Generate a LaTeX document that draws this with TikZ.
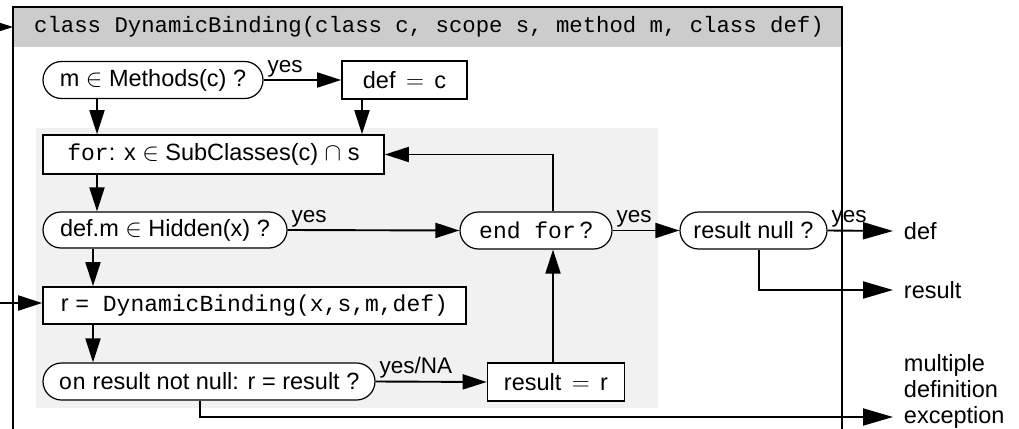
\documentclass[tikz,border=0pt]{standalone}
\usepackage{fontspec}
\setmainfont{Liberation Sans}
\newfontfamily\codefont{Liberation Mono}
\usetikzlibrary{arrows.meta,shapes.misc}
\newcommand{\cd}[1]{{\codefont\fontsize{23}{26}\selectfont #1}}
\definecolor{headgray}{HTML}{CCCCCC}
\definecolor{loopgray}{HTML}{F1F1F1}

\begin{document}
\begin{tikzpicture}[x=1pt,y=-1pt,
  line width=1.9pt,
  every node/.style={font=\fontsize{23.5}{26}\selectfont},
  box/.style={draw, rectangle, inner sep=0pt, fill=white, line width=1.7pt},
  term/.style={draw, rounded rectangle, inner sep=0pt, fill=white, line width=1.2pt},
  arr/.style={-{Triangle[length=24pt,width=15pt]}},
  outarr/.style={-{Triangle[length=30pt,width=17pt]}},
  lbl/.style={anchor=base west, inner sep=0pt, yshift=8pt, xshift=3pt, font=\fontsize{22.5}{26}\selectfont},
  outtxt/.style={anchor=west, inner sep=0pt, align=left}]

\useasboundingbox (0,0) rectangle (1019,428);

% procedure frame and its header
\fill[headgray] (13,7) rectangle (842,47);
\draw (13,440) -- (13,7) -- (842,7) -- (842,440);
\node (head) at (429,27) {{\codefont\fontsize{22.3}{26}\selectfont class DynamicBinding(class c, scope s, method m, class def)}};

% loop body background
\fill[loopgray] (36,128) rectangle (658,408);

% steps
\node[term, minimum width=220pt, minimum height=37pt] (mth) at (153,80) {m $\in$ Methods(c) ?};
\node[box, minimum width=125pt, minimum height=38pt] (defc) at (404.5,80) {def \,$=$\, c};
\node[box, minimum width=341pt, minimum height=39pt] (forn) at (213.5,154.5) {\cd{for}: x $\in$ SubClasses(c) $\cap$ s};
\node[term, minimum width=244pt, minimum height=36pt] (hid) at (165,230) {def.m $\in$ Hidden(x) ?};
\node[term, minimum width=152pt, minimum height=37pt] (endf) at (536,230.5) {\cd{end for}\,?};
\node[term, minimum width=147pt, minimum height=37pt] (rnull) at (753.5,230.5) {result null ?};
\node[box, minimum width=423pt, minimum height=37pt] (rdb) at (254.5,305.5) {r \cd{= DynamicBinding(x,s,m,def)}};
\node[term, minimum width=332pt, minimum height=37pt] (onr) at (209,381.5) {\cd{on} result not null: r = result ?};
\node[box, minimum width=137pt, minimum height=38pt] (resr) at (556,382) {result \,$=$\, r};

% results
\node[outtxt] (odef) at (903,231) {def};
\node[outtxt] (ores) at (903,290) {result};
\node[outtxt] (oexc) at (903,391) {multiple\\definition\\exception};

% connector anchors
\coordinate (inTop) at (0,27);
\coordinate (frameL) at (13,27);
\coordinate (inRec) at (0,303);
\coordinate (xa) at (97,0);
\coordinate (xb) at (362,0);
\coordinate (xc) at (93,0);
\coordinate (xd) at (553,0);
\coordinate (xe) at (759,0);
\coordinate (xf) at (200,0);
\coordinate (excTip) at (893,417);

% connectors
\draw[arr] (inTop) -- (frameL);
\draw[arr] (inRec) -- (rdb.west |- inRec);
\draw[arr] (mth.east) -- node[lbl, pos=0] {yes} (defc.west);
\draw[arr] (mth.south -| xa) -- (forn.north -| xa);
\draw[arr] (defc.south -| xb) -- (forn.north -| xb);
\draw[arr] (forn.south -| xa) -- (hid.north -| xa);
\draw[arr] (hid.east) -- node[lbl, pos=0] {yes} (endf.west);
\draw[arr] (endf.north -| xd) |- (forn.east);
\draw[arr] (endf.east) -- node[lbl, pos=0] {yes} (rnull.west);
\draw[outarr] (rnull.east) -- node[lbl, pos=0] {yes} ([xshift=-10pt]odef.west);
\draw[outarr] (rnull.south -| xe) |- ([xshift=-10pt]ores.west);
\draw[arr] (hid.south -| xc) -- (rdb.north -| xc);
\draw[arr] (rdb.south -| xc) -- (onr.north -| xc);
\draw[arr] (onr.east) -- node[lbl, pos=0] {yes/NA} (resr.west);
\draw[arr] (resr.north -| xd) -- (endf.south -| xd);
\draw[outarr] (onr.south -| xf) |- (excTip);
\end{tikzpicture}
\end{document}
